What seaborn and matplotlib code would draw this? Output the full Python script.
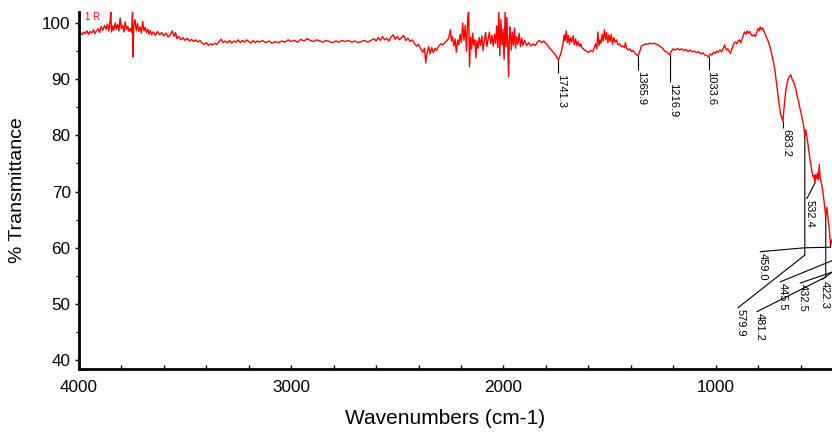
import numpy as np
import pandas as pd
import matplotlib
matplotlib.use("Agg")
import matplotlib.pyplot as plt
import seaborn as sns
from matplotlib.ticker import MultipleLocator
from matplotlib.transforms import offset_copy

# ---------------- data ----------------
wavenumber = [
    4000, 3992, 3985, 3978, 3970, 3962, 3955, 3948, 3940, 3932, 3925, 3918, 3910, 3903,
    3896, 3888, 3880, 3873, 3866, 3860, 3854, 3850, 3847, 3842, 3836, 3830, 3824, 3818,
    3812, 3806, 3800, 3794, 3788, 3782, 3776, 3770, 3764, 3758, 3752, 3748, 3745, 3742,
    3736, 3730, 3724, 3718, 3712, 3706, 3700, 3694, 3688, 3682, 3676, 3670, 3664, 3658,
    3650, 3640, 3630, 3620, 3610, 3600, 3590, 3580, 3570, 3560, 3552, 3545, 3538, 3530,
    3520, 3510, 3500, 3490, 3480, 3470, 3460, 3450, 3440, 3430, 3420, 3410, 3400, 3390,
    3380, 3370, 3360, 3350, 3340, 3330, 3322, 3312, 3300, 3290, 3280, 3270, 3260, 3250,
    3240, 3230, 3220, 3210, 3200, 3190, 3180, 3170, 3160,
    3150, 3135, 3120, 3105, 3090, 3075, 3060, 3045, 3030, 3015, 3000, 2985, 2970, 2955,
    2940, 2925, 2910, 2895, 2880, 2865, 2850, 2835, 2820, 2805, 2790, 2775, 2760, 2745,
    2730, 2715, 2700, 2685, 2670, 2655, 2640, 2625, 2610, 2600, 2590, 2580, 2570, 2560,
    2550, 2540, 2530, 2520, 2510, 2500, 2490, 2480, 2470, 2460, 2450, 2440, 2430, 2420,
    2410, 2400, 2390, 2380, 2372, 2366, 2360, 2352, 2345, 2338, 2330, 2322, 2315, 2305,
    2295, 2285, 2275, 2265, 2258, 2250, 2245, 2240, 2234, 2228, 2222, 2216, 2210, 2204,
    2198, 2192, 2186, 2180, 2174, 2168, 2164, 2160, 2155, 2150, 2145, 2140, 2135, 2130,
    2125, 2120, 2114, 2108, 2102, 2096, 2090, 2084, 2078, 2072, 2066, 2060, 2054, 2048,
    2042, 2037, 2032, 2027, 2022, 2017, 2012, 2007, 2002, 1997, 1992, 1988, 1984, 1980,
    1976, 1972, 1968, 1963, 1958, 1953, 1948, 1943, 1938, 1932, 1926, 1920, 1914, 1908,
    1900, 1890, 1880, 1870, 1860, 1850, 1840, 1830, 1820, 1810, 1800, 1790, 1780, 1770,
    1760, 1750, 1741.3, 1734, 1728, 1720, 1714, 1709, 1704, 1699, 1694, 1689, 1684, 1678,
    1672, 1666, 1660, 1654, 1648, 1642, 1636, 1630, 1620, 1610, 1600, 1590, 1580, 1572,
    1566, 1560, 1555, 1550, 1545, 1540, 1535, 1530, 1524, 1519, 1514, 1508, 1503, 1498,
    1492, 1486, 1480, 1474, 1468, 1460, 1452, 1444, 1436, 1430, 1425, 1420, 1412, 1404,
    1396, 1388, 1380, 1373, 1365.9, 1358, 1350, 1340, 1330, 1320, 1310, 1300, 1290, 1280,
    1270, 1260, 1250, 1240, 1230, 1216.9, 1208, 1200, 1190, 1180, 1170, 1160, 1150, 1140,
    1130, 1120, 1110, 1100, 1090, 1080, 1070, 1060, 1050, 1040, 1033.6, 1026, 1018, 1010,
    1002, 995, 988, 980, 972, 965, 958, 950, 943, 936, 930, 924, 918, 912,
    906, 900, 894, 888, 882, 876, 870, 864, 858, 852, 846, 840, 834, 826,
    818, 812, 806, 800, 795, 790, 784, 779, 772, 766, 760, 752, 746, 738,
    730, 722, 714, 706, 700, 694, 683.2, 678, 672, 665, 658, 652, 646, 640,
    634, 628, 622, 616, 610, 604, 598, 592, 586, 579.9, 575, 570, 565, 560,
    555, 550, 545, 540, 536, 532.4, 528, 524, 520, 516, 512, 508, 504, 498,
    492, 487, 481.2, 476, 470, 465, 459.0, 452, 445.5, 439, 432.5, 427, 422.3, 410,
    400,
]
transmittance = [
    98.0, 98.3, 97.9, 98.4, 98.1, 98.6, 98.0, 98.5, 98.2, 98.8, 98.1, 98.6, 99.0, 98.3,
    99.4, 98.7, 99.6, 98.9, 99.8, 98.6, 100.2, 102.0, 98.4, 99.5, 98.7, 100.0, 98.9, 99.8,
    98.6, 100.9, 99.0, 99.6, 98.4, 100.2, 98.8, 99.4, 98.5, 99.0, 98.3, 101.9, 94.0, 99.5,
    100.6, 98.6, 99.9, 98.5, 99.3, 98.2, 100.3, 98.6, 99.2, 98.3, 98.9, 98.0, 98.7, 97.9,
    98.4, 97.8, 98.5, 97.9, 98.3, 97.7, 98.2, 97.5, 97.9, 98.6, 97.6, 98.3, 97.2, 97.6,
    97.0, 97.4, 96.9, 97.3, 96.8, 97.1, 96.7, 97.0, 96.6, 96.9, 96.4, 96.2, 96.5, 96.0,
    96.3, 96.1, 96.4, 96.2, 96.7, 97.1, 96.5, 96.8, 96.5, 96.9, 96.4, 96.8, 96.6, 97.0,
    96.5, 96.9, 96.6, 97.0, 96.7, 96.4, 96.9, 96.5, 96.8,
    96.6, 96.9, 96.5, 96.8, 96.4, 96.7, 96.5, 96.8, 96.6, 97.0, 96.7, 96.9, 96.6, 97.1,
    96.8, 97.2, 96.9, 96.7, 97.0, 96.8, 96.6, 96.9, 96.7, 96.5, 96.8, 96.6, 96.9, 96.7,
    96.9, 96.6, 96.8, 96.5, 96.7, 96.9, 96.6, 96.9, 97.2, 96.8, 97.4, 96.9, 97.6, 97.0,
    97.3, 96.8, 97.5, 97.9, 97.1, 97.6, 97.0, 97.4, 97.8, 96.9, 97.3, 96.7, 97.0, 96.4,
    95.9, 96.2, 95.4, 94.8, 95.5, 92.9, 94.6, 95.8, 94.5, 95.6, 94.7, 95.5, 95.1, 95.9,
    96.3, 96.1, 96.6, 96.9, 97.3, 98.8, 96.8, 97.6, 95.9, 97.2, 94.8, 97.0, 96.1, 98.0,
    96.5, 100.0, 96.9, 99.6, 95.0, 101.2, 102.0, 92.2, 97.5, 95.4, 98.2, 96.1, 97.0, 93.8,
    96.8, 95.5, 97.4, 96.0, 97.7, 95.1, 96.9, 98.3, 95.8, 97.2, 98.4, 96.3, 97.8, 95.9,
    98.0, 96.4, 99.5, 95.6, 102.0, 94.2, 100.6, 96.1, 98.9, 93.5, 102.0, 95.8, 101.0, 96.7,
    90.4, 97.5, 99.3, 95.2, 98.4, 96.0, 99.1, 95.5, 97.6, 96.2, 98.2, 95.8, 97.3, 96.0,
    96.9, 96.0, 96.5, 95.9, 96.3, 96.0, 96.6, 96.9, 96.5, 96.8, 96.4, 96.0, 95.4, 95.0,
    94.6, 94.0, 93.4, 94.1, 94.8, 96.2, 97.9, 96.8, 98.6, 96.5, 97.8, 96.2, 97.4, 96.6,
    97.7, 96.1, 97.2, 96.0, 96.7, 95.8, 96.3, 95.6, 95.3, 95.0, 94.8, 95.1, 94.9, 95.6,
    96.3, 95.4, 98.4, 96.0, 97.0, 96.4, 98.0, 96.8, 98.8, 97.0, 98.3, 96.5, 97.9, 96.7,
    98.0, 96.2, 97.4, 96.6, 97.0, 96.1, 96.3, 95.8, 95.9, 95.6, 96.5, 95.5, 95.2, 95.4,
    94.9, 95.1, 94.6, 94.4, 94.1, 94.9, 95.9, 96.1, 96.3, 96.2, 96.4, 96.3, 96.4, 96.2,
    96.1, 95.8, 95.5, 95.0, 94.8, 94.4, 95.0, 95.4, 95.2, 95.5, 95.2, 95.4, 95.1, 95.3,
    94.9, 95.2, 94.9, 95.0, 94.7, 94.9, 94.5, 94.7, 94.3, 94.2, 93.9, 94.5, 94.3, 94.8,
    94.6, 95.0, 94.8, 95.2, 94.9, 95.4, 96.1, 95.2, 95.4, 94.9, 94.6, 95.3, 96.0, 96.5,
    96.6, 96.3, 96.8, 97.0, 96.5, 97.1, 97.8, 98.4, 98.0, 98.6, 98.2, 98.5, 98.0, 97.7,
    97.9, 97.6, 98.4, 99.0, 98.6, 99.3, 98.8, 99.1, 98.5, 97.9, 97.4, 96.7, 96.0, 94.8,
    93.5, 91.9, 89.5, 87.2, 85.3, 83.8, 82.5, 84.8, 87.2, 89.0, 90.1, 90.5, 90.8, 90.0,
    89.6, 89.0, 88.2, 87.0, 86.2, 85.0, 84.0, 83.0, 81.8, 79.8, 81.0, 79.6, 78.4, 77.0,
    75.6, 74.5, 73.3, 72.6, 72.9, 71.5, 73.0, 72.4, 73.3, 72.1, 74.8, 72.6, 71.8, 70.8,
    69.2, 67.5, 65.5, 67.2, 65.0, 63.5, 60.5, 61.5, 59.0, 60.0, 57.5, 59.0, 56.5, 58.0,
    59.0,
]

peak_labels = ["1741.3", "1365.9", "1216.9", "1033.6", "683.2", "579.9", "532.4",
               "481.2", "459.0", "445.5", "432.5", "422.3"]
peak_wn = [1741.3, 1365.9, 1216.9, 1033.6, 683.2, 579.9, 532.4,
           481.2, 459.0, 445.5, 432.5, 422.3]

x_ticks = [4000, 3000, 2000, 1000]
y_ticks = [40, 50, 60, 70, 80, 90, 100]

# ---------------- layout (label leader waypoints, data units) ----------------
leader_paths = [
    [(1741.3, 91.1)],
    [(1365.9, 91.6)],
    [(1216.9, 89.5)],
    [(1033.6, 91.6)],
    [(683.2, 81.3)],
    [(579.9, 58.7), (896, 49.3)],
    [(571, 68.7)],
    [(481.2, 54.8), (807, 48.6)],
    [(459.0, 60.1), (580, 60.0), (792, 59.3)],
    [(445.5, 57.8), (698, 53.9)],
    [(432.5, 55.9), (604, 53.7)],
    [(500, 54.3)],
]

# ---------------- plotting ----------------
sns.set_theme(style="white")
plt.rcParams["font.family"] = ["Liberation Sans", "DejaVu Sans"]

fig = plt.figure(figsize=(8.32, 4.34), dpi=100)
ax = fig.add_axes([79 / 832, 65 / 434, 764 / 832, 357 / 434])

df = pd.DataFrame({"wn": wavenumber, "T": transmittance})
sns.lineplot(data=df, x="wn", y="T", ax=ax, color="#ff0000", lw=1.0,
             sort=False, estimator=None)

ax.set_xlim(4000, 400)
ax.set_ylim(38.43, 101.96)
ax.set_xlabel("")
ax.set_ylabel("")

for s in ["top", "right"]:
    ax.spines[s].set_visible(False)
for s in ["left", "bottom"]:
    ax.spines[s].set_linewidth(2.0)
    ax.spines[s].set_color("black")

ax.set_xticks(x_ticks)
ax.set_xticklabels([str(v) for v in x_ticks])
ax.xaxis.set_minor_locator(MultipleLocator(200))
ax.set_yticks(y_ticks)
ax.yaxis.set_minor_locator(MultipleLocator(5))
ax.tick_params(axis="x", which="both", direction="in", length=3, width=1,
               color="black", labelsize=12.3, pad=8, labelcolor="black",
               bottom=True)
ax.tick_params(axis="y", which="major", direction="out", length=3, width=1,
               color="black", labelsize=12.3, pad=3, labelcolor="black",
               left=True)
ax.tick_params(axis="y", which="minor", direction="out", length=2, width=1,
               color="black", left=True)

# peak labels with leaders
wn_arr = np.array(wavenumber)[::-1]
t_arr = np.array(transmittance)[::-1]
txt_tr = offset_copy(ax.transData, fig=fig, x=3, y=-1, units="dots")
for lab, pw, path in zip(peak_labels, peak_wn, leader_paths):
    pt = float(np.interp(pw, wn_arr, t_arr))
    xs = [pw] + [p[0] for p in path]
    ys = [pt] + [p[1] for p in path]
    ax.plot(xs, ys, color="black", lw=0.8, solid_capstyle="butt")
    ax.text(xs[-1], ys[-1], lab, rotation=270, ha="center", va="top",
            fontsize=8, color="black", transform=txt_tr)

ax.text(0.008, 0.985, "1 R", transform=ax.transAxes, color="#ff0000",
        fontsize=7, va="center", ha="left")

fig.text(445 / 832, 1 - 418 / 434, "Wavenumbers (cm-1)", ha="center",
         va="center", fontsize=15, color="black")
fig.text(18 / 832, 1 - 190 / 434, "% Transmittance", ha="center",
         va="center", rotation=90, fontsize=14, color="black")

fig.savefig("out.png", dpi=100)
